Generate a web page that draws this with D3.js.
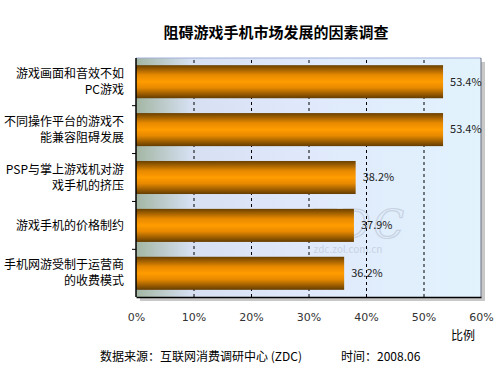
<html><head>
<meta charset="utf-8">
<script src="https://d3js.org/d3.v7.min.js"></script>
<style>
  body { margin: 0; background: #fff; }
  text { font-family: "Noto Sans CJK SC", "DejaVu Sans", sans-serif; }
  .grid line { stroke: #000; stroke-dasharray: 3,3; }
  .grid .domain { stroke: none; }
</style>
</head>
<body>
<svg id="chart" width="500" height="375"></svg>
<script>
// data
const factors = [
  ["游戏画面和音效不如", "PC游戏"],
  ["不同操作平台的游戏不", "能兼容阻碍发展"],
  ["PSP与掌上游戏机对游", "戏手机的挤压"],
  ["游戏手机的价格制约"],
  ["手机网游受制于运营商", "的收费模式"]
];
const shares = [53.4, 53.4, 38.2, 37.9, 36.2];
const xTicks = [0, 10, 20, 30, 40, 50, 60];

let svg = d3.select("svg#chart");
const margins = {"top": 58, "right": 19, "bottom": 78, "left": 136};
const chartWidth = 500 - margins.left - margins.right;
const chartHeight = 375 - margins.top - margins.bottom;

let defs = svg.append("defs");
let bg = defs.append("linearGradient").attr("id", "bg").attr("x1", 0).attr("x2", 1).attr("y1", 0).attr("y2", 0);
bg.append("stop").attr("offset", "0%").attr("stop-color", "#a3b6a3");
bg.append("stop").attr("offset", "16%").attr("stop-color", "#d6e0f2");
bg.append("stop").attr("offset", "45%").attr("stop-color", "#dfe8fb");
bg.append("stop").attr("offset", "100%").attr("stop-color", "#e2f3fd");

let barGrad = defs.append("linearGradient").attr("id", "bar").attr("x1", 0).attr("x2", 0).attr("y1", 0).attr("y2", 1);
barGrad.append("stop").attr("offset", "0%").attr("stop-color", "#6a4000");
barGrad.append("stop").attr("offset", "30%").attr("stop-color", "#e88a00");
barGrad.append("stop").attr("offset", "50%").attr("stop-color", "#ff9c00");
barGrad.append("stop").attr("offset", "68%").attr("stop-color", "#e88a00");
barGrad.append("stop").attr("offset", "100%").attr("stop-color", "#643c00");

// title
svg.append("text")
   .attr("x", 276).attr("y", 38)
   .attr("text-anchor", "middle")
   .style("font-size", "15px").style("font-weight", "bold")
   .text("阻碍游戏手机市场发展的因素调查");

let plot = svg.append("g").attr("transform", "translate(" + margins.left + "," + margins.top + ")");

const xScale = d3.scaleLinear().domain([0, 60]).range([0, chartWidth]);
const yScale = d3.scaleBand().domain(d3.range(factors.length)).range([0, chartHeight]).paddingInner(0.31).paddingOuter(0.15);

// shadow
plot.append("rect")
    .attr("x", 4).attr("y", 4)
    .attr("width", chartWidth).attr("height", chartHeight)
    .attr("fill", "#c8c8c8");

plot.append("rect")
    .attr("width", chartWidth).attr("height", chartHeight)
    .attr("fill", "url(#bg)");

// faint watermark behind the bars
let wm = plot.append("g").attr("opacity", 0.55);
wm.append("text")
    .attr("x", 220).attr("y", 180)
    .attr("text-anchor", "middle")
    .attr("textLength", 96)
    .style("font-size", "40px").style("font-style", "italic").style("font-family", "\"DejaVu Serif\", serif")
    .attr("fill", "none").attr("stroke", "#b4bccc").attr("stroke-width", 1.2)
    .text("ZDC");
wm.append("text")
    .attr("x", 212).attr("y", 195)
    .attr("text-anchor", "middle")
    .style("font-size", "10px")
    .attr("fill", "#b4bccc")
    .text("zdc.zol.com.cn");

// grid
let xGrid = d3.axisBottom(xScale).tickValues([10, 20, 30, 40, 50]).tickFormat("").tickSize(-chartHeight);
plot.append("g")
    .attr("class", "grid")
    .attr("transform", "translate(0," + chartHeight + ")")
    .call(xGrid);

// border
plot.append("line").attr("x1", 0).attr("x2", chartWidth).attr("y1", 0).attr("y2", 0).attr("stroke", "#9fb0d8");
plot.append("line").attr("x1", chartWidth).attr("x2", chartWidth).attr("y1", 0).attr("y2", chartHeight).attr("stroke", "#6a7080");

// bars
plot.selectAll("rect.bar")
    .data(shares)
    .join("rect")
    .attr("class", "bar")
    .attr("x", 0)
    .attr("y", (d, i) => yScale(i))
    .attr("width", d => xScale(d))
    .attr("height", yScale.bandwidth())
    .attr("fill", "url(#bar)");

// value labels
plot.selectAll("text.val")
    .data(shares)
    .join("text")
    .attr("class", "val")
    .attr("x", d => xScale(d) + 7)
    .attr("y", (d, i) => yScale(i) + yScale.bandwidth() / 2)
    .attr("dy", "0.35em")
    .style("font-size", "11px")
    .attr("fill", "#222")
    .text(d => d.toFixed(1) + "%");

// left axis with ticks between bands
const step = yScale.step();
const sepTicks = d3.range(1, factors.length).map(i => yScale(i) - (step - yScale.bandwidth()) / 2);
plot.append("line").attr("x1", 0).attr("x2", 0).attr("y1", 0).attr("y2", chartHeight).attr("stroke", "#000").attr("stroke-width", 1.5);
plot.selectAll("line.sep")
    .data(sepTicks)
    .join("line")
    .attr("class", "sep")
    .attr("x1", -4).attr("x2", 0)
    .attr("y1", d => d).attr("y2", d => d)
    .attr("stroke", "#000");

// bottom axis
let xAxis = d3.axisBottom(xScale).tickValues(xTicks).tickFormat(d => d + "%").tickSize(0).tickPadding(16);
let xg = plot.append("g")
    .attr("transform", "translate(0," + chartHeight + ")")
    .call(xAxis);
xg.select(".domain").attr("stroke", "#000").attr("stroke-width", 1.5);
xg.selectAll("text").style("font-size", "11px").attr("fill", "#333").style("font-family", "\"DejaVu Sans\", sans-serif");

// category labels
factors.forEach((lines, i) => {
  let cy = margins.top + yScale(i) + yScale.bandwidth() / 2;
  let t = svg.append("text")
     .attr("x", 124)
     .attr("text-anchor", "end")
     .style("font-size", "12px");
  lines.forEach((line, j) => {
    t.append("tspan")
     .attr("x", 124)
     .attr("y", cy + (j - (lines.length - 1) / 2) * 16)
     .attr("dy", "0.35em")
     .text(line);
  });
});

svg.append("text")
   .attr("x", 463).attr("y", 340)
   .attr("text-anchor", "middle")
   .style("font-size", "12px")
   .text("比例");

svg.append("text")
   .attr("x", 100).attr("y", 361)
   .style("font-size", "12px")
   .text("数据来源：互联网消费调研中心 (ZDC)");

svg.append("text")
   .attr("x", 341).attr("y", 361)
   .style("font-size", "12px")
   .text("时间：2008.06");
</script>
</body>
</html>
